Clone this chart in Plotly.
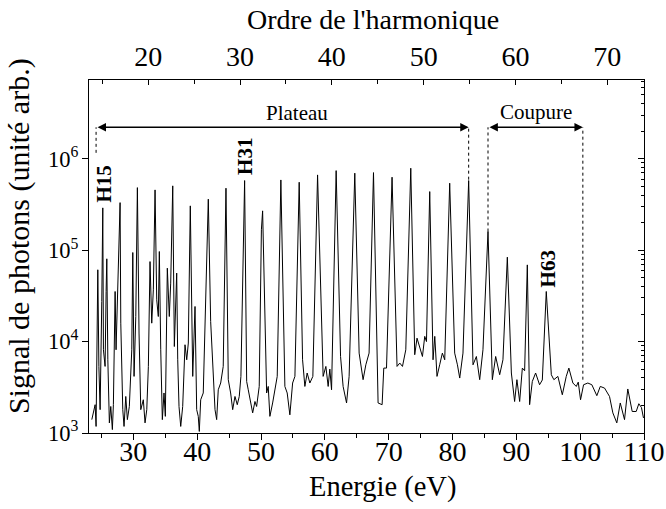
import plotly.graph_objects as go

# Spectrum (photon energy in eV, signal in arb. units)
energy_ev = [
    23.49, 23.74, 24.01, 24.16, 24.27, 24.43, 24.60, 24.79, 25.05, 25.21,
    25.31, 25.57, 25.73, 25.84, 26.00, 26.24, 26.46, 26.71, 26.87, 27.14,
    27.29, 27.50, 27.92, 28.03, 28.34, 28.54, 28.81, 29.06, 29.37, 29.75,
    29.91, 30.11, 30.38, 30.63, 30.89, 31.16, 31.56, 31.83, 32.10, 32.35,
    32.61, 32.88, 33.13, 33.40, 33.66, 33.91, 34.07, 34.29, 34.54, 34.80,
    35.01, 35.32, 35.63, 35.85, 36.17, 36.42, 36.79, 36.95, 37.15, 37.42,
    37.73, 38.09, 38.36, 38.61, 38.92, 39.30, 39.66, 39.92, 40.17, 40.33,
    40.55, 40.95, 41.22, 41.74, 42.11, 42.43, 42.79, 43.05, 43.30, 43.68,
    44.08, 44.51, 44.87, 45.24, 45.56, 45.92, 46.28, 46.59, 46.85, 47.43,
    47.75, 48.00, 48.26, 48.69, 49.05, 49.31, 49.72, 50.06, 50.25, 50.88,
    51.13, 51.39, 51.82, 52.18, 52.54, 53.11, 53.74, 54.10, 54.52, 54.95,
    55.31, 55.98, 56.51, 56.87, 57.23, 57.65, 58.12, 58.86, 59.73, 60.16,
    60.52, 60.78, 61.05, 61.77, 62.46, 62.86, 63.40, 63.80, 64.69, 65.37,
    65.99, 66.42, 66.93, 67.62, 68.34, 68.97, 69.23, 69.66, 70.53, 71.31,
    71.74, 72.16, 72.68, 73.46, 74.08, 74.44, 74.87, 75.29, 75.65, 75.92,
    76.43, 76.95, 77.22, 77.57, 77.99, 78.41, 78.78, 79.56, 80.34, 80.77,
    81.13, 81.64, 82.53, 83.21, 83.74, 84.26, 84.77, 85.56, 86.24, 86.76,
    87.39, 87.90, 88.59, 89.22, 89.73, 90.09, 90.52, 90.94, 91.30, 91.72,
    92.08, 92.50, 93.02, 93.64, 94.07, 94.69, 95.48, 95.88, 96.51, 97.20,
    97.82, 98.23, 98.86, 99.39, 99.70, 100.06, 100.53, 101.20, 101.83, 102.61,
    103.15, 103.82, 104.60, 105.12, 105.74, 106.28, 106.95, 107.46, 108.15, 108.78,
    109.19, 109.60, 109.92,
]
signal = [
    1400, 1660, 2040, 1180, 7480, 61000, 5350, 1800, 27400, 290000,
    8130, 5350, 35300, 80400, 6320, 1290, 1950, 1090, 2040, 35300,
    8130, 26400, 331000, 15900, 1800, 1180, 2510, 1400, 1950, 8130,
    94200, 4160, 18800, 483000, 12400, 1800, 2310, 1290, 1800, 5350,
    75000, 15900, 36800, 456000, 28600, 18800, 96600, 8130, 1400, 2740,
    1520, 63500, 18800, 43600, 505000, 8830, 56100, 6320, 1950, 1180,
    1950, 9230, 6320, 9640, 305000, 4160, 24200, 1800, 1520, 1040,
    2310, 2740, 12400, 361000, 16600, 5350, 1800, 1400, 2970, 3520,
    5350, 476000, 3830, 2740, 1800, 2510, 2040, 2510, 4160, 577000,
    3660, 2970, 2310, 1660, 2210, 1950, 3230, 167000, 269000, 2740,
    3230, 1520, 2130, 2970, 4160, 586000, 3230, 2740, 1580, 3520,
    4160, 553000, 6320, 3230, 4530, 3520, 4160, 665000, 4160, 5350,
    3230, 5000, 2970, 741000, 6870, 3230, 2130, 4160, 695000, 7480,
    3830, 5570, 7480, 705000, 2130, 2040, 5130, 5130, 628000, 5350,
    5820, 5350, 8130, 787000, 7180, 10900, 8830, 6870, 11400, 10000,
    437000, 6320, 11400, 4160, 5570, 7480, 6320, 540000, 7480, 5570,
    3990, 7480, 577000, 5570, 6870, 3830, 8130, 160000, 3830, 6870,
    4340, 6320, 83800, 4530, 2210, 3830, 2210, 5130, 4800, 69000,
    2040, 3660, 4530, 3370, 3800, 35300, 4340, 3830, 4160, 2620,
    4160, 5130, 3520, 3230, 3600, 2310, 3370, 3520, 3370, 2560,
    3230, 3100, 2510, 1660, 1290, 2130, 1400, 3030, 1720, 1720,
    2090, 1900, 1460,
]

energy_range = [23.05, 110.0]
order_range = [13.55, 74.0]
log_signal_range = [3.0, 6.861]

FONT = "Liberation Serif, Times New Roman, serif"

fig = go.Figure()
fig.add_trace(go.Scatter(
    x=energy_ev, y=signal, mode="lines",
    line=dict(color="black", width=1),
    showlegend=False, hoverinfo="skip",
))
# empty trace so that the top (harmonic order) and right axes get drawn
fig.add_trace(go.Scatter(x=[], y=[], xaxis="x2", yaxis="y2",
                         showlegend=False, hoverinfo="skip"))

axis_common = dict(showline=True, linecolor="black", linewidth=1,
                   showgrid=False, zeroline=False, tickcolor="black",
                   tickwidth=1, automargin=False)

fig.update_layout(
    width=666, height=509,
    margin=dict(l=89, r=22, t=80, b=76),
    paper_bgcolor="white", plot_bgcolor="white",
    font=dict(family=FONT, color="black"),
    xaxis=dict(
        range=energy_range, dtick=10, tick0=0, ticks="outside", ticklen=6,
        minor=dict(dtick=5, tick0=0, ticks="outside", ticklen=4, tickcolor="black"),
        tickfont=dict(size=28, family=FONT), ticklabelstandoff=-13,
        **axis_common,
    ),
    xaxis2=dict(
        overlaying="x", side="top", anchor="y",
        range=order_range, dtick=10, tick0=0, ticks="inside", ticklen=5,
        minor=dict(dtick=5, tick0=0, ticks="inside", ticklen=4, tickcolor="black"),
        tickfont=dict(size=28, family=FONT), ticklabelstandoff=2,
        **axis_common,
    ),
    yaxis=dict(
        type="log", range=log_signal_range, dtick=1, exponentformat="power",
        ticks="outside", ticklen=6,
        tickfont=dict(size=18, family=FONT),
        **axis_common,
    ),
    yaxis2=dict(
        type="log", overlaying="y", side="right", anchor="x",
        range=log_signal_range, dtick=1, ticks="inside", ticklen=6,
        showticklabels=False,
        minor=dict(ticks="inside", ticklen=3, dtick="D1", tickcolor="black"),
        **axis_common,
    ),
)

# Axis titles
fig.add_annotation(x=0.529, y=-0.153, xref="paper", yref="paper",
                   text="Energie (eV)", showarrow=False,
                   xanchor="center", yanchor="middle",
                   font=dict(size=28.5, family=FONT))
fig.add_annotation(x=0.5126, y=1.17, xref="paper", yref="paper",
                   text="Ordre de l'harmonique", showarrow=False,
                   xanchor="center", yanchor="middle",
                   font=dict(size=28, family=FONT))
fig.add_annotation(x=-0.126, y=0.558, xref="paper", yref="paper",
                   text="Signal de photons (unité arb.)", showarrow=False,
                   textangle=-90, xanchor="center", yanchor="middle",
                   font=dict(size=30, family=FONT))

# Region markers
arrow_y_log = 6.344
plateau = (24.16, 82.53)
coupure = (85.56, 100.42)
for (x0, x1) in (plateau, coupure):
    fig.add_annotation(
        x=x1, y=arrow_y_log, ax=x0, ay=arrow_y_log,
        xref="x", yref="y", axref="x", ayref="y",
        text="", showarrow=True, arrowhead=2, arrowside="end+start",
        arrowsize=1.2, arrowwidth=1.4, arrowcolor="black", standoff=0, startstandoff=0,
    )

# dotted verticals (x, bottom signal) - top at arrow level
arrow_top_signal = 10 ** arrow_y_log
dotted = [(24.16, 1.16e6), (82.53, 5.9e5), (85.56, 1.6e5), (100.42, 3830)]
for xv, ybot in dotted:
    fig.add_shape(type="line", xref="x", yref="y", x0=xv, x1=xv,
                  y0=ybot, y1=arrow_top_signal,
                  line=dict(color="black", width=1, dash="dot"))

fig.add_annotation(x=55.57, y=6.50, xref="x", yref="y", text="Plateau",
                   showarrow=False, font=dict(size=21, family=FONT))
fig.add_annotation(x=93.07, y=6.51, xref="x", yref="y", text="Coupure",
                   showarrow=False, font=dict(size=21, family=FONT))

for label, xv, yv in (("H15", 25.34, 5.725), ("H31", 47.48, 6.03), ("H63", 94.90, 4.796)):
    fig.add_annotation(x=xv, y=yv, xref="x", yref="y", text="<b>%s</b>" % label,
                       textangle=-90, showarrow=False,
                       font=dict(size=21, family=FONT))

# remove the browser's default 8 px page margin so the figure sits at (0, 0)
fig.write_html("out.html", config={"displayModeBar": False},
               post_script="document.body.style.margin='0px';")
